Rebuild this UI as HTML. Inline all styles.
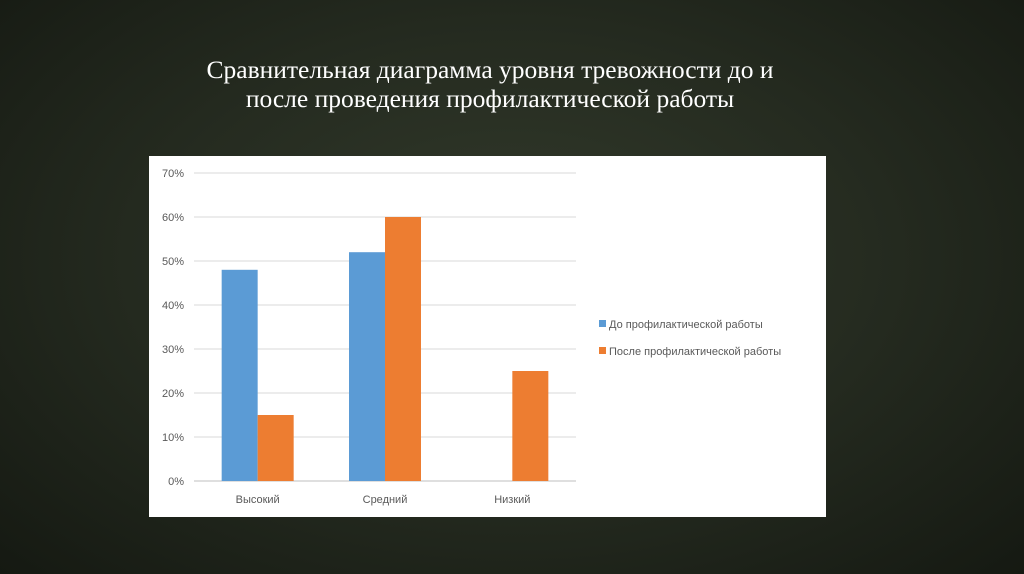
<!DOCTYPE html>
<html><head><meta charset="utf-8">
<style>
html,body{margin:0;padding:0;}
body{width:1024px;height:574px;overflow:hidden;background:radial-gradient(ellipse at 50% 45%,#323a2b 0%,#252b20 50%,#151912 100%);font-family:"Liberation Sans",sans-serif;position:relative;}
#title{position:absolute;left:100px;width:780px;top:55px;text-align:center;color:#fff;font-family:"Liberation Serif","Noto Serif CJK SC",serif;font-size:25.5px;line-height:29px;}
#chart{position:absolute;left:149px;top:156px;width:677px;height:361px;background:#fff;}
</style></head><body>
<div id="title">Сравнительная диаграмма уровня тревожности до и<br>после проведения профилактической работы</div>
<div id="chart">
<svg id="svg" width="677" height="361"></svg>
</div>
<script>
const categories=["Высокий","Средний","Низкий"];
const seriesBefore=[48,52,0];
const seriesAfter=[15,60,25];
const ticks=[0,10,20,30,40,50,60,70];
const seriesNames=["До профилактической работы","После профилактической работы"];
const colors=["#5b9bd5","#ed7d31"];
const svg=document.getElementById('svg');
const NS="http://www.w3.org/2000/svg";
const X0=45,X1=427,Y0=325,Y70=17;
const y=v=>Y0-(v/70)*(Y0-Y70);
const cw=(X1-X0)/categories.length;
const x=i=>X0+cw*(i+0.5);
function mk(t,a){const e=document.createElementNS(NS,t);for(const k in a)e.setAttribute(k,a[k]);svg.appendChild(e);return e;}
ticks.forEach(t=>{
 const l=mk('line',{x1:X0,x2:X1,y1:y(t),y2:y(t),stroke:t===0?'#bfbfbf':'#d9d9d9','stroke-width':1});
 
 
 const tx=mk('text',{x:X0-10,y:y(t)+4,'text-anchor':'end','font-size':11,fill:'#595959'});
 tx.textContent=t+'%';
 
 
});
const bw=36;
[seriesBefore,seriesAfter].forEach((s,si)=>{
 s.forEach((v,i)=>{
  const bx=x(i)-bw+si*bw;
  const r=mk('rect',{x:bx,y:y(v),width:bw,height:Y0-y(v),fill:colors[si]});
  
  
 });
});
categories.forEach((c,i)=>{
 const t=mk('text',{x:x(i),y:Y0+22,'text-anchor':'middle','font-size':11,fill:'#595959'});
 t.textContent=c;
 
 
});
seriesNames.forEach((n,i)=>{
 const r=mk('rect',{x:450,y:164+i*27,width:7,height:7,fill:colors[i]});
 
 
 const t=mk('text',{x:460,y:172+i*27,'font-size':11,fill:'#595959'});
 t.textContent=n;
 
 
});
</script>
</body></html>
